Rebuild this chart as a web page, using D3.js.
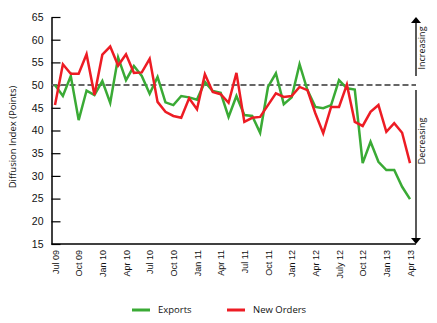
<!DOCTYPE html>
<html>
<head>
<meta charset="utf-8">
<script src="https://cdn.jsdelivr.net/npm/d3@7"></script>
<style>
  body { margin: 0; background: #fff; }
  svg { font-family: "Open Sans", sans-serif; }
</style>
</head>
<body>
<svg id="chart" width="437" height="323"></svg>
<script>
// monthly diffusion index, Jul 09 .. Apr 13
const exportsIdx = [50, 47.6, 52, 42.3, 48.8, 47.8, 50.9, 46.1, 56.1, 51.1, 54.2, 52,
  48.1, 51.8, 46.2, 45.6, 47.6, 47.3, 46.8, 50.7, 48.7, 48.3, 43, 47.6,
  43.4, 43.2, 39.5, 49.6, 52.6, 45.8, 47.3, 54.6, 48.9, 45.2, 44.9, 45.6,
  51.1, 49.3, 49, 32.8, 37.5, 33.1, 31.3, 31.3, 27.6, 24.9];
const newOrders = [45.6, 54.6, 52.5, 52.5, 56.8, 47.8, 56.7, 58.5, 54.3, 56.8, 52.7, 52.8,
  55.8, 46.3, 44.1, 43.2, 42.8, 47.1, 44.7, 52.4, 48.5, 48, 46.1, 52.7,
  41.9, 42.8, 43, 45.6, 48.2, 47.4, 47.6, 49.6, 48.9, 43.8, 39.4, 45.2,
  45.2, 50.1, 41.9, 41, 44.1, 45.6, 39.7, 41.6, 39.5, 32.8];
const tickLabels = ['Jul 09', 'Oct 09', 'Jan 10', 'Apr 10', 'Jul 10', 'Oct 10', 'Jan 11', 'Apr 11',
  'Jul 11', 'Oct 11', 'Jan 12', 'Apr 12', 'July 12', 'Oct 12', 'Jan 13', 'Apr 13'];
const yTicks = [15, 20, 25, 30, 35, 40, 45, 50, 55, 60, 65];

const svg = d3.select('#chart');
const plotL = 51.5, plotR = 416, plotT = 17, plotB = 244;

const x = d3.scaleLinear().domain([0, exportsIdx.length - 1]).range([55, 410]);
const y = d3.scaleLinear().domain([15, 65]).range([plotB, plotT]);

// y axis with inward ticks
svg.append('g')
  .attr('transform', `translate(${plotL},0)`)
  .call(d3.axisLeft(y).tickValues(yTicks).tickSizeInner(-9).tickSizeOuter(0).tickPadding(8))
  .call(g => g.select('.domain').attr('stroke', '#000').attr('stroke-width', 1.5))
  .call(g => g.selectAll('.tick line').attr('stroke', '#000').attr('stroke-width', 1.2))
  .call(g => g.selectAll('text').attr('font-size', 10.5).attr('fill', '#111'));

// x axis labels, rotated
svg.append('g')
  .attr('transform', `translate(0,${plotB})`)
  .call(d3.axisBottom(x).tickValues(d3.range(0, exportsIdx.length, 3))
    .tickFormat((d, i) => tickLabels[i]).tickSize(0))
  .call(g => g.select('.domain').remove())
  .call(g => g.selectAll('text')
    .attr('font-size', 9)
    .attr('fill', '#111')
    .attr('text-anchor', 'end')
    .attr('transform', 'rotate(-90)')
    .attr('x', -6)
    .attr('y', 0)
    .attr('dy', '0.35em'));

svg.append('line')
  .attr('x1', plotL).attr('x2', plotR)
  .attr('y1', plotB).attr('y2', plotB)
  .attr('stroke', '#000').attr('stroke-width', 1.5);

// 50 reference line
svg.append('line')
  .attr('x1', plotL).attr('x2', plotR)
  .attr('y1', y(50)).attr('y2', y(50))
  .attr('stroke', '#666').attr('stroke-width', 2)
  .attr('stroke-dasharray', '6 3');

const line = d3.line().x((d, i) => x(i)).y(d => y(d));

svg.append('path')
  .datum(exportsIdx)
  .attr('d', line)
  .attr('fill', 'none')
  .attr('stroke', '#3aaa35')
  .attr('stroke-width', 2.5);

svg.append('path')
  .datum(newOrders)
  .attr('d', line)
  .attr('fill', 'none')
  .attr('stroke', '#ed1c24')
  .attr('stroke-width', 2.5);

// right side arrows
svg.append('line')
  .attr('x1', plotR).attr('x2', plotR)
  .attr('y1', plotT + 4).attr('y2', 76)
  .attr('stroke', '#000').attr('stroke-width', 1.3);
svg.append('path')
  .attr('d', `M${plotR - 5},${plotT + 6}L${plotR},${plotT}L${plotR + 5},${plotT + 6}Z`)
  .attr('fill', '#000');
svg.append('line')
  .attr('x1', plotR).attr('x2', plotR)
  .attr('y1', 90).attr('y2', plotB - 4)
  .attr('stroke', '#000').attr('stroke-width', 1.3);
svg.append('path')
  .attr('d', `M${plotR - 5},${plotB - 6}L${plotR},${plotB}L${plotR + 5},${plotB - 6}Z`)
  .attr('fill', '#000');

svg.append('text')
  .attr('transform', `translate(${plotR + 6},48) rotate(-90)`)
  .attr('text-anchor', 'middle')
  .attr('dy', '0.35em')
  .attr('font-size', 9)
  .attr('fill', '#111')
  .text('Increasing');
svg.append('text')
  .attr('transform', `translate(${plotR + 6},141) rotate(-90)`)
  .attr('text-anchor', 'middle')
  .attr('dy', '0.35em')
  .attr('font-size', 9)
  .attr('fill', '#111')
  .text('Decreasing');

// y axis title
svg.append('text')
  .attr('transform', 'translate(13,137) rotate(-90)')
  .attr('text-anchor', 'middle')
  .attr('dy', '0.35em')
  .attr('font-size', 9.5)
  .attr('fill', '#111')
  .text('Diffusion Index (Points)');

// legend
const legend = [
  { name: 'Exports', color: '#3aaa35', x: 132 },
  { name: 'New Orders', color: '#ed1c24', x: 227 }
];
const lg = svg.append('g').selectAll('g').data(legend).join('g')
  .attr('transform', d => `translate(${d.x},310)`);
lg.append('line')
  .attr('x1', 0).attr('x2', 18)
  .attr('stroke', d => d.color).attr('stroke-width', 3);
lg.append('text')
  .attr('x', 26)
  .attr('dy', '0.35em')
  .attr('font-size', 9.5)
  .attr('fill', '#111')
  .text(d => d.name);
</script>
</body>
</html>
